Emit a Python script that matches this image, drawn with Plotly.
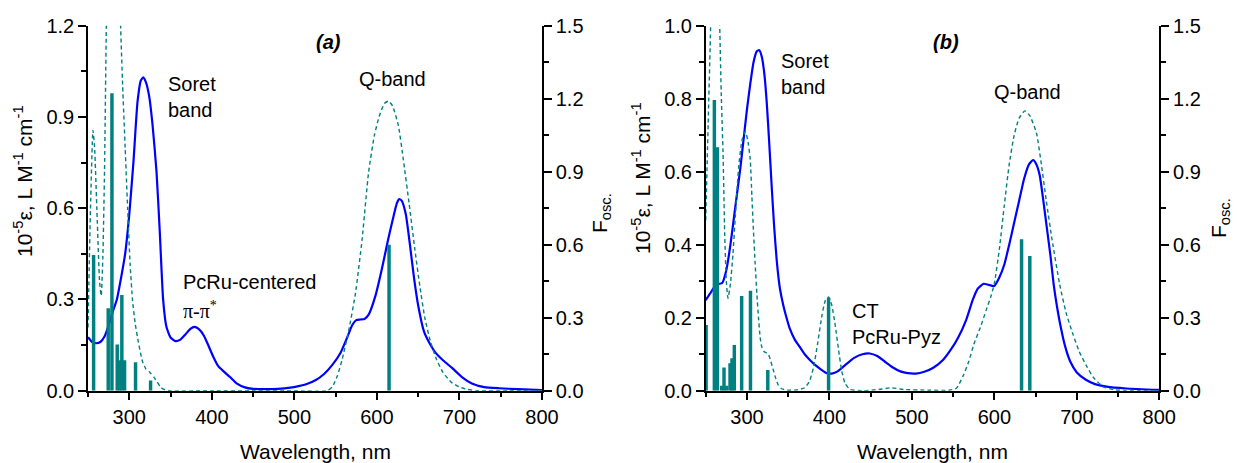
import plotly.graph_objects as go

# ---------------- Panel (a) data ----------------
wl_abs_a = [250, 255, 260, 265, 270, 275, 280, 285, 290, 295, 300, 305, 310, 314, 317, 320, 324, 328,
            333, 337, 341, 345, 350, 356, 362, 368, 374, 379, 384, 390, 396, 402, 408, 415, 422, 430,
            440, 450, 465, 480, 495, 505, 515, 526, 536, 546, 556, 564, 570, 575, 580, 585, 590, 598,
            606, 613, 619, 624, 627, 630, 635, 640, 645, 650, 657, 665, 671, 680, 691, 703, 715, 730,
            748, 770, 800]
eps_a = [0.176, 0.160, 0.156, 0.160, 0.178, 0.215, 0.26, 0.30, 0.37, 0.45, 0.58, 0.75, 0.95, 1.02, 1.03,
         1.015, 0.97, 0.88, 0.72, 0.52, 0.30, 0.21, 0.175, 0.163, 0.168, 0.185, 0.203, 0.21, 0.203, 0.183,
         0.148, 0.11, 0.08, 0.062, 0.045, 0.024, 0.011, 0.006, 0.005, 0.006, 0.010, 0.015, 0.022, 0.035,
         0.055, 0.085, 0.125, 0.175, 0.215, 0.232, 0.234, 0.236, 0.25, 0.31, 0.40, 0.49, 0.56, 0.615,
         0.630, 0.625, 0.580, 0.480, 0.37, 0.28, 0.195, 0.150, 0.125, 0.100, 0.075, 0.045, 0.024, 0.012,
         0.008, 0.005, 0.002]

wl_calc_a = [250, 253, 256, 258, 261, 264, 266, 268, 270, 272, 274, 280, 286, 289, 292, 295, 298, 301,
             304, 307, 311, 316, 320, 325, 330, 334, 338, 342, 350, 400, 450, 500, 540, 546, 552, 558,
             566, 574, 582, 590, 597, 603, 609, 614, 619, 626, 632, 639, 646, 652, 658, 665, 672, 680,
             690, 700, 710, 720, 760, 800]
fosc_curve_a = [0.26, 0.75, 1.07, 1.0, 0.72, 0.45, 0.39, 0.55, 0.90, 1.45, 1.9, 2.2, 1.9, 1.55, 1.25, 1.0,
                0.75, 0.52, 0.37, 0.28, 0.20, 0.12, 0.09, 0.075, 0.055, 0.035, 0.015, 0.005, 0.0, 0.0,
                0.0, 0.0, 0.0, 0.016, 0.06, 0.13, 0.25, 0.40, 0.62, 0.90, 1.05, 1.13, 1.18, 1.19, 1.17,
                1.09, 0.95, 0.77, 0.58, 0.43, 0.30, 0.20, 0.13, 0.075, 0.035, 0.015, 0.005, 0.0, 0.0, 0.0]

wl_bars_a = [256.8, 274.5, 279.0, 285.4, 288.2, 291.0, 294.3, 307.6, 325.8, 614.7]
f_bars_a = [0.558, 0.339, 1.222, 0.19, 0.125, 0.393, 0.125, 0.117, 0.042, 0.60]

# ---------------- Panel (b) data ----------------
wl_abs_b = [250, 255, 260, 265, 270, 275, 280, 284, 288, 292, 296, 300, 304, 308, 312, 315, 318, 321,
            324, 327, 330, 333, 336, 340, 344, 348, 352, 358, 364, 370, 376, 383, 390, 397, 403, 410,
            420, 430, 440, 449, 458, 467, 476, 486, 495, 505, 515, 526, 538, 548, 556, 566, 574, 580,
            587, 593, 600, 606, 612, 618, 624, 630, 636, 642, 647, 651, 655, 660, 664, 668, 672, 676,
            680, 686, 692, 700, 711, 722, 736, 760, 800]
eps_b = [0.248, 0.265, 0.282, 0.292, 0.295, 0.33, 0.40, 0.47, 0.54, 0.61, 0.69, 0.77, 0.84, 0.90, 0.93,
         0.933, 0.915, 0.87, 0.79, 0.68, 0.56, 0.45, 0.36, 0.28, 0.235, 0.20, 0.17, 0.14, 0.12, 0.10,
         0.085, 0.07, 0.058, 0.048, 0.047, 0.053, 0.072, 0.09, 0.10, 0.102, 0.095, 0.08, 0.065, 0.053,
         0.048, 0.047, 0.052, 0.063, 0.085, 0.115, 0.145, 0.195, 0.25, 0.28, 0.293, 0.29, 0.287, 0.31,
         0.345, 0.40, 0.46, 0.52, 0.58, 0.62, 0.632, 0.62, 0.59, 0.51, 0.44, 0.37, 0.29, 0.23, 0.18,
         0.12, 0.08, 0.05, 0.03, 0.018, 0.011, 0.006, 0.002]

wl_calc_b = [250, 253, 256, 258, 262, 265, 267, 269, 271, 273, 275, 277, 280, 283, 286, 290, 294, 298,
             301, 304, 306, 308, 310, 312, 314, 316, 318, 321, 324, 326, 329, 332, 335, 338, 342, 350,
             360, 370, 376, 381, 386, 391, 395, 399, 403, 407, 411, 415, 419, 425, 440, 460, 475, 490,
             520, 545, 554, 562, 569, 575, 583, 590, 596, 600, 606, 612, 618, 624, 630, 637, 643, 651,
             657, 663, 670, 679, 687, 695, 703, 712, 720, 732, 745, 760, 800]
fosc_curve_b = [0.70, 1.1, 1.5, 1.9, 2.2, 1.9, 1.5, 1.2, 0.98, 0.65, 0.45, 0.38, 0.44, 0.56, 0.72, 0.92,
                1.03, 1.065, 1.03, 0.95, 0.80, 0.65, 0.52, 0.40, 0.30, 0.22, 0.18, 0.16, 0.155, 0.15,
                0.12, 0.085, 0.05, 0.023, 0.008, 0.002, 0.003, 0.012, 0.04, 0.10, 0.20, 0.31, 0.37, 0.385,
                0.35, 0.27, 0.17, 0.08, 0.03, 0.005, 0.0, 0.005, 0.012, 0.005, 0.002, 0.002, 0.01, 0.06,
                0.12, 0.19, 0.26, 0.33, 0.39, 0.44, 0.58, 0.76, 0.93, 1.05, 1.12, 1.15, 1.13, 1.06, 0.93,
                0.78, 0.62, 0.44, 0.32, 0.235, 0.16, 0.10, 0.055, 0.016, 0.004, 0.0, 0.0]

wl_bars_b = [250.5, 260.5, 264.2, 269.4, 272.2, 275.5, 279.5, 281.9, 284.7, 293.6, 304.3, 325.3, 399.0,
             633.0, 643.0]
f_bars_b = [0.27, 1.195, 1.0, 0.02, 0.095, 0.02, 0.113, 0.133, 0.188, 0.389, 0.411, 0.085, 0.382,
            0.622, 0.554]

# ---------------- ticks ----------------
x_ticks = [300, 400, 500, 600, 700, 800]
x_minor = [250, 350, 450, 550, 650, 750]
eps_ticks_a = [0.0, 0.3, 0.6, 0.9, 1.2]
eps_minor_a = [0.15, 0.45, 0.75, 1.05]
eps_ticks_b = [0.0, 0.2, 0.4, 0.6, 0.8, 1.0]
eps_minor_b = [0.1, 0.3, 0.5, 0.7, 0.9]
f_ticks = [0.0, 0.3, 0.6, 0.9, 1.2, 1.5]
f_minor = [0.15, 0.45, 0.75, 1.05, 1.35]

BLUE = "#0000ff"
TEAL = "#008080"
FONT = "Arial, 'Liberation Sans', sans-serif"
W, H = 1237, 463

fig = go.Figure()

def add_panel(xa, ya, ya2, wl_abs, eps, wl_calc, fcurve, wl_bars, fbars):
    fig.add_trace(go.Scatter(x=wl_abs, y=eps, xaxis=xa, yaxis=ya, mode="lines",
                             line=dict(color=BLUE, width=2.2, shape="spline", smoothing=0.5),
                             showlegend=False, hoverinfo="skip"))
    fig.add_trace(go.Scatter(x=wl_calc, y=fcurve, xaxis=xa, yaxis=ya2, mode="lines",
                             line=dict(color=TEAL, width=1.4, dash="4px,3px", shape="spline", smoothing=0.5),
                             showlegend=False, hoverinfo="skip"))
    fig.add_trace(go.Bar(x=wl_bars, y=fbars, xaxis=xa, yaxis=ya2, width=4.2,
                         marker=dict(color=TEAL, line=dict(width=0)),
                         showlegend=False, hoverinfo="skip"))

add_panel("x", "y", "y2", wl_abs_a, eps_a, wl_calc_a, fosc_curve_a, wl_bars_a, f_bars_a)
add_panel("x2", "y3", "y4", wl_abs_b, eps_b, wl_calc_b, fosc_curve_b, wl_bars_b, f_bars_b)

ydom = [(H - 390.7) / H, (H - 25.7) / H]
dom_a = [88.0 / W, 542.0 / W]
dom_b = [705.7 / W, 1159.3 / W]

common = dict(showgrid=False, zeroline=False, showline=True, linecolor="black", linewidth=1.5,
              ticks="outside", ticklen=8, tickwidth=1.5, tickcolor="black", automargin=False,
              tickfont=dict(family=FONT, size=20, color="black"))

def minor(vals):
    return dict(tickvals=vals, ticks="outside", ticklen=5, tickwidth=1.5, tickcolor="black", showgrid=False)

fig.update_layout(
    width=W, height=H, autosize=False,
    margin=dict(l=0, r=0, t=0, b=0, pad=0, autoexpand=False),
    paper_bgcolor="white", plot_bgcolor="white",
    barmode="overlay", showlegend=False,
    font=dict(family=FONT, size=20, color="black"),
    xaxis=dict(domain=dom_a, anchor="y", range=[250, 800], tickvals=x_ticks, minor=minor(x_minor), **common),
    yaxis=dict(domain=ydom, anchor="x", range=[0, 1.2], tickvals=eps_ticks_a, tickformat=".1f",
               minor=minor(eps_minor_a), **common),
    yaxis2=dict(domain=ydom, overlaying="y", anchor="x", side="right", range=[0, 1.5], tickvals=f_ticks,
                tickformat=".1f", minor=minor(f_minor), **common),
    xaxis2=dict(domain=dom_b, anchor="y3", range=[250, 800], tickvals=x_ticks, minor=minor(x_minor), **common),
    yaxis3=dict(domain=ydom, anchor="x2", range=[0, 1.0], tickvals=eps_ticks_b, tickformat=".1f",
                minor=minor(eps_minor_b), **common),
    yaxis4=dict(domain=ydom, overlaying="y3", anchor="x2", side="right", range=[0, 1.5], tickvals=f_ticks,
                tickformat=".1f", minor=minor(f_minor), **common),
)

def px_x(p):
    return p / W

def px_y(p):
    return (H - p) / H

ann = []
# axis titles
eps_title = "10<sup>-5</sup>ε, L M<sup>-1</sup> cm<sup>-1</sup>"
f_title = "F<sub>osc.</sub>"
for xc, yc, txt in [(23, 181, eps_title), (641, 178, eps_title), (601, 213, f_title), (1220, 218, f_title)]:
    ann.append(dict(x=px_x(xc), y=px_y(yc), xref="paper", yref="paper", text=txt, textangle=-90,
                    showarrow=False, xanchor="center", yanchor="middle", font=dict(size=21)))
for xc in [315, 932.5]:
    ann.append(dict(x=px_x(xc), y=px_y(451), xref="paper", yref="paper", text="Wavelength, nm",
                    showarrow=False, xanchor="center", yanchor="middle", font=dict(size=21)))

# panel labels
ann += [
    dict(x=344.2, y=0.964, xref="x", yref="y", text="Soret<br>band", align="left"),
    dict(x=541, y=1.146, xref="x", yref="y", text="<b><i>(a)</i></b>", xanchor="center"),
    dict(x=576, y=1.025, xref="x", yref="y", text="Q-band"),
    dict(x=362.3, y=0.356, xref="x", yref="y", text="PcRu-centered"),
    dict(x=362.3, y=0.265, xref="x", yref="y", text="π-π<sup>*</sup>",
         font=dict(family="'Liberation Serif', 'Times New Roman', serif", size=20)),
    dict(x=338.8, y=0.869, xref="x2", yref="y3", text="Soret<br>band", align="left"),
    dict(x=541.2, y=0.955, xref="x2", yref="y3", text="<b><i>(b)</i></b>", xanchor="center"),
    dict(x=597, y=0.818, xref="x2", yref="y3", text="Q-band"),
    dict(x=424.9, y=0.184, xref="x2", yref="y3", text="CT<br>PcRu-Pyz", align="left"),
]
for a in ann:
    a.setdefault("showarrow", False)
    a.setdefault("xanchor", "left")
    a.setdefault("yanchor", "middle")
    a.setdefault("font", dict(size=20))

fig.update_layout(annotations=ann)
fig.write_html("out.html", config={"displayModeBar": False},
               post_script="document.body.style.margin='0px';document.body.style.padding='0px';")
